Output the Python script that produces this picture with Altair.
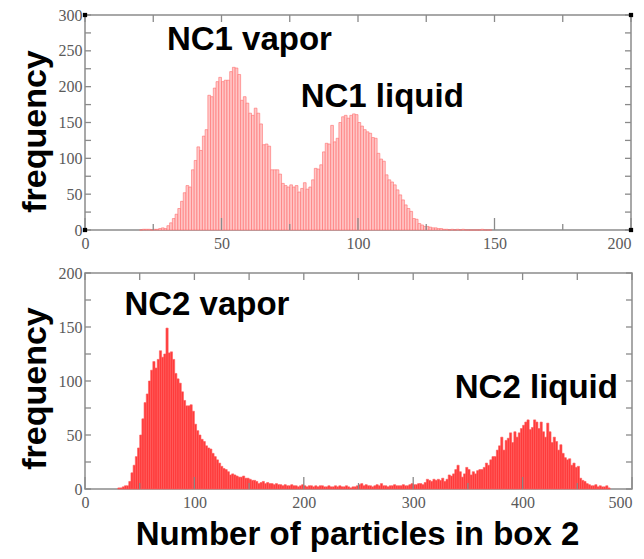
import altair as alt
import pandas as pd

# ---------------- data ----------------
# Top panel: NC1, bins of width 1 starting at 20
nc1_start = 20
nc1_width = 1
nc1_counts = [0, 1, 1, 1, 0, 1, 1, 2, 3, 2,
              6, 10, 16, 22, 30, 40, 52, 62, 60, 84,
              97, 116, 111, 131, 140, 188, 186, 198, 207, 213,
              207, 209, 209, 221, 227, 226, 217, 181, 186, 177,
              163, 160, 170, 163, 148, 119, 120, 117, 84, 84,
              84, 78, 65, 62, 60, 63, 60, 62, 53, 58,
              66, 57, 60, 70, 86, 85, 91, 109, 121, 120,
              146, 123, 128, 150, 158, 160, 156, 160, 162, 161,
              150, 145, 140, 137, 135, 129, 128, 107, 99, 96,
              77, 70, 67, 63, 56, 49, 42, 35, 30, 26,
              16, 15, 9, 7, 5, 5, 4, 3, 3, 2,
              2, 1, 1, 0, 1, 0, 1, 0, 1, 0,
              0, 0, 0, 0, 0, 1, 0, 0, 0]

# Bottom panel: NC2, bins of width 2 starting at 30
nc2_start = 30
nc2_width = 2
nc2_counts = [1, 1, 2, 3, 3, 7, 15, 22, 30, 38,
              50, 65, 80, 88, 100, 110, 118, 112, 120, 128,
              122, 125, 149, 126, 127, 120, 107, 102, 98, 90,
              82, 77, 77, 78, 72, 60, 54, 50, 46, 44,
              40, 38, 37, 33, 30, 27, 24, 21, 19, 18,
              16, 13, 14, 13, 12, 11, 11, 12, 10, 10,
              9, 8, 8, 7, 5, 6, 7, 5, 6, 5,
              5, 4, 5, 4, 4, 3, 4, 3, 3, 4,
              3, 3, 2, 3, 4, 3, 2, 3, 3, 2,
              3, 2, 3, 3, 2, 2, 3, 2, 2, 3,
              2, 3, 2, 2, 3, 2, 1, 2, 2, 3,
              4, 5, 3, 4, 3, 3, 2, 3, 4, 3,
              5, 3, 3, 2, 3, 3, 4, 3, 3, 3,
              4, 3, 3, 4, 5, 4, 4, 5, 5, 4,
              6, 9, 8, 7, 9, 8, 9, 8, 10, 7,
              9, 13, 12, 14, 18, 22, 16, 11, 14, 20,
              18, 13, 16, 14, 17, 18, 18, 20, 24, 22,
              27, 30, 30, 36, 40, 48, 36, 45, 47, 52,
              43, 53, 48, 52, 56, 59, 62, 64, 55, 57,
              64, 62, 56, 62, 53, 48, 61, 53, 43, 48,
              44, 36, 41, 33, 29, 27, 28, 22, 24, 20,
              21, 10, 8, 7, 5, 4, 3, 3, 4, 2,
              3, 2, 2, 3, 1]

# axis ticks / labels
top_x_labels = [0, 50, 100, 150, 200]
top_x_minor = [25, 75, 125, 175]
top_y_labels = [0, 50, 100, 150, 200, 250, 300]
top_y_minor = [25, 75, 125, 175, 225, 275]
bot_x_labels = [0, 100, 200, 300, 400, 500]
bot_x_minor = [50, 150, 250, 350, 450]
bot_y_labels = [0, 50, 100, 150, 200]
bot_y_minor = [25, 75, 125, 175]

# annotations (data coordinates of the left/baseline point)
nc1_notes = ["NC1 vapor", "NC1 liquid"]
nc1_note_x = [30, 79]
nc1_note_y = [251, 172]
nc2_notes = ["NC2 vapor", "NC2 liquid"]
nc2_note_x = [36, 338]
nc2_note_y = [161, 84]

Y_TITLE = "frequency"
X_TITLE = "Number of particles in box 2"

SANS = "Liberation Sans"
SERIF = "Liberation Serif"
TICK_COLOR = "#8a8a8a"
LABEL_COLOR = "#5a5a5a"


def hist_df(start, width, counts):
    s = [start + i * width for i in range(len(counts))]
    return pd.DataFrame({"start": s, "end": [v + width for v in s],
                         "count": counts, "base": [0] * len(counts)})


def panel(df, xmax, ymax, xlabels, xminor, ylabels, yminor, notes, nx, ny,
          fill, stroke, W, H, title_y, xtitle=None, corners=False):
    xs = alt.Scale(domain=[0, xmax], nice=False, zero=False)
    ys = alt.Scale(domain=[0, ymax], nice=False)

    xaxis_kw = dict(values=xlabels, ticks=False, domain=False, grid=False,
                    labelFont=SERIF, labelFontSize=16, labelColor=LABEL_COLOR,
                    labelPadding=5,
                    labelAlign={"condition": {"test": f"datum.value >= {xmax}",
                                              "value": "right"},
                                "value": "center"})
    if xtitle:
        xaxis_kw.update(title=xtitle, titleFont=SANS, titleFontSize=33,
                        titleFontWeight="bold", titleColor="black",
                        titleX=272, titleY=55, titleBaseline="alphabetic",
                        titleAlign="center")
    else:
        xaxis_kw.update(title="")
    xaxis = alt.Axis(**xaxis_kw)

    yaxis = alt.Axis(values=ylabels, ticks=False, domain=False, grid=False,
                     labelFont=SERIF, labelFontSize=16, labelColor=LABEL_COLOR,
                     labelPadding=3, title=Y_TITLE, titleFont=SANS,
                     titleFontSize=34, titleFontWeight="bold", titleColor="black",
                     titleX=-50, titleY=title_y, titleBaseline="middle",
                     titleAlign="center")

    bars = alt.Chart(df).mark_bar(fill=fill, stroke=stroke, strokeWidth=0.6).encode(
        x=alt.X("start:Q", scale=xs, axis=xaxis),
        x2="end:Q",
        y=alt.Y("count:Q", scale=ys, axis=yaxis),
        y2="base:Q",
    )

    def xt(vals, length, side):
        d = pd.DataFrame({"v": vals})
        if side == "bottom":
            y, y2 = alt.value(H), alt.value(H - length)
        else:
            y, y2 = alt.value(0), alt.value(length)
        return alt.Chart(d).mark_rule(color=TICK_COLOR, strokeWidth=1.3).encode(
            x=alt.X("v:Q", scale=xs, axis=xaxis), y=y, y2=y2)

    def yt(vals, length, side):
        d = pd.DataFrame({"v": vals})
        if side == "left":
            x, x2 = alt.value(0), alt.value(length)
        else:
            x, x2 = alt.value(W), alt.value(W - length)
        return alt.Chart(d).mark_rule(color=TICK_COLOR, strokeWidth=1.3).encode(
            y=alt.Y("v:Q", scale=ys, axis=yaxis), x=x, x2=x2)

    ticks = [
        xt(xlabels, 12, "bottom"), xt(xminor, 6, "bottom"),
        xt(xlabels, 7, "top"), xt(xminor, 7, "top"),
        yt(ylabels, 6, "left"), yt(yminor, 6, "left"),
        yt(ylabels, 6, "right"), yt(yminor, 6, "right"),
    ]

    notes_df = pd.DataFrame({"label": notes, "x": nx, "y": ny})
    text = alt.Chart(notes_df).mark_text(
        align="left", baseline="alphabetic", font=SANS, fontSize=33,
        fontWeight="bold", color="black").encode(
        x=alt.X("x:Q", scale=xs, axis=xaxis),
        y=alt.Y("y:Q", scale=ys, axis=yaxis),
        text="label:N")

    layers = [bars] + ticks + [text]
    if corners:
        cdf = pd.DataFrame({"x": [0, 0, xmax, xmax], "y": [0, ymax, 0, ymax]})
        sq = alt.Chart(cdf).mark_square(size=18, color="black", opacity=1).encode(
            x=alt.X("x:Q", scale=xs, axis=xaxis),
            y=alt.Y("y:Q", scale=ys, axis=yaxis))
        layers.append(sq)
    return alt.layer(*layers).properties(width=W, height=H)


top = panel(hist_df(nc1_start, nc1_width, nc1_counts), 200, 300,
            top_x_labels, top_x_minor, top_y_labels, top_y_minor,
            nc1_notes, nc1_note_x, nc1_note_y,
            fill="#ffc6c6", stroke="#ff6b6b", W=546, H=215, title_y=116,
            corners=True)
bottom = panel(hist_df(nc2_start, nc2_width, nc2_counts), 500, 200,
               bot_x_labels, bot_x_minor, bot_y_labels, bot_y_minor,
               nc2_notes, nc2_note_x, nc2_note_y,
               fill="#ff3a3a", stroke="#ff5c5c", W=547, H=216, title_y=115,
               xtitle=X_TITLE)

chart = alt.vconcat(top, bottom, spacing=12).properties(
    padding={"left": 9, "top": -2, "right": 0, "bottom": 0},
    background="white",
).configure_view(stroke="#8c8c8c", strokeWidth=1.5)

chart.save("out.html", embed_options={"renderer": "svg", "actions": False})
